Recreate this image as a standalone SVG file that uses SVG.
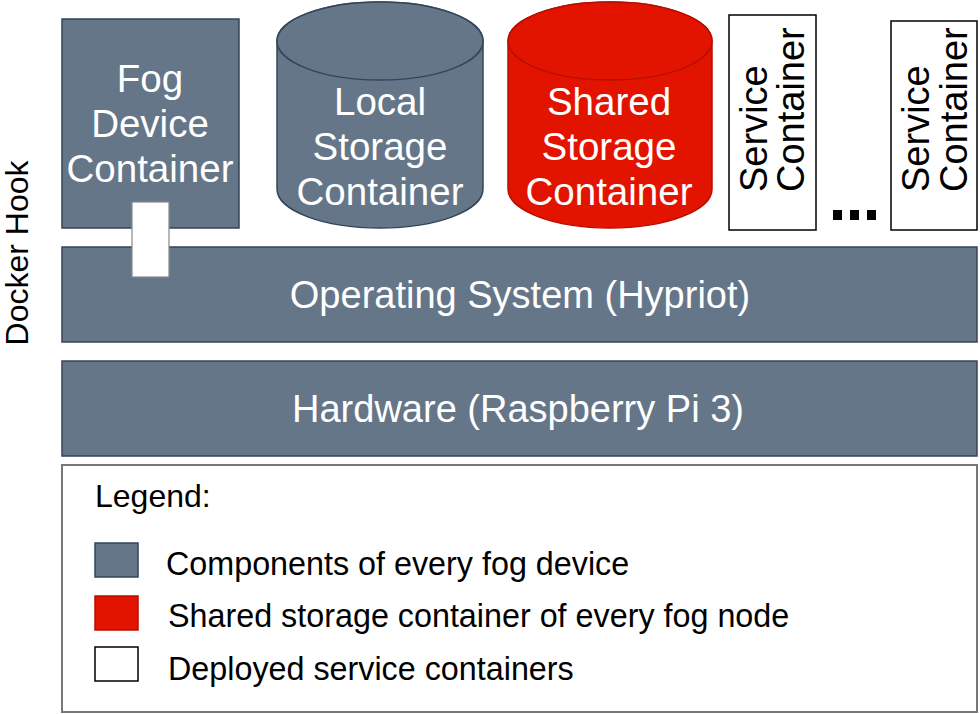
<svg xmlns="http://www.w3.org/2000/svg" width="980" height="714" viewBox="0 0 980 714">
<style>
.g{fill:#657689;stroke:#34445a;stroke-width:1.5}
.r{fill:#e21400;stroke:#b80e00;stroke-width:1.5}
.w{fill:#ffffff;stroke:#000;stroke-width:1.5}
.t{font-family:"Liberation Sans",Arial,sans-serif;text-anchor:middle;fill:#fff}
.k{font-family:"Liberation Sans",Arial,sans-serif;fill:#000}
</style>
<rect width="980" height="714" fill="#fff"/>
<g id="docker-hook-label"><text class="k" font-size="32" text-anchor="middle" transform="translate(28,253) rotate(-90)">Docker Hook</text></g>
<g id="os"><rect class="g" x="62" y="247" width="915" height="95"/><text class="t" font-size="38" x="520" y="308">Operating System (Hypriot)</text></g>
<g id="hardware"><rect class="g" x="62" y="361" width="915" height="95"/><text class="t" font-size="38" x="518" y="422">Hardware (Raspberry Pi 3)</text></g>
<g id="fog-device"><rect class="g" x="62" y="19" width="177" height="209"/><text class="t" font-size="38.5"><tspan x="150" y="92">Fog</tspan><tspan x="150" y="137">Device</tspan><tspan x="150" y="182">Container</tspan></text></g>
<g id="docker-hook"><rect x="132" y="202" width="37" height="75" fill="#fff" stroke="#888" stroke-width="1.2"/></g>
<g id="local-storage"><path class="g" d="M277,41 L277,189 A103,39 0 0 0 483,189 L483,41 A103,39 0 0 0 277,41 Z"/><ellipse class="g" cx="380" cy="41" rx="103" ry="39"/><text class="t" font-size="38.5"><tspan x="380" y="115">Local</tspan><tspan x="380" y="160">Storage</tspan><tspan x="380" y="205">Container</tspan></text></g>
<g id="shared-storage"><path class="r" d="M508,41 L508,189 A102,39 0 0 0 712,189 L712,41 A102,39 0 0 0 508,41 Z"/><ellipse class="r" cx="610" cy="41" rx="102" ry="39"/><text class="t" font-size="38.5"><tspan x="609" y="115">Shared</tspan><tspan x="609" y="160">Storage</tspan><tspan x="609" y="205">Container</tspan></text></g>
<g id="service-1"><rect class="w" x="729" y="15" width="87" height="215"/><text class="k" font-size="38" transform="translate(767,192) rotate(-90)">Service</text><text class="k" font-size="38" transform="translate(804,192) rotate(-90)">Container</text></g>
<g id="ellipsis"><rect x="833" y="210" width="9" height="10" fill="#000"/><rect x="850" y="210" width="9" height="10" fill="#000"/><rect x="867" y="210" width="9" height="10" fill="#000"/></g>
<g id="service-2"><rect class="w" x="891" y="21" width="86" height="209"/><text class="k" font-size="38" transform="translate(929,192) rotate(-90)">Service</text><text class="k" font-size="38" transform="translate(967,192) rotate(-90)">Container</text></g>
<g id="connectors"></g>
<g id="legend">
<rect x="62" y="465" width="915" height="247" fill="#fff" stroke="#777" stroke-width="2"/>
<text class="k" font-size="32" x="95" y="507">Legend:</text>
<rect class="g" x="95" y="543" width="43" height="34"/>
<text class="k" font-size="32.3" x="166" y="575">Components of every fog device</text>
<rect class="r" x="95" y="596" width="43" height="34"/>
<text class="k" font-size="32.3" x="168" y="627">Shared storage container of every fog node</text>
<rect class="w" x="95" y="647" width="43" height="34"/>
<text class="k" font-size="32.3" x="168" y="680">Deployed service containers</text>
</g>
</svg>
